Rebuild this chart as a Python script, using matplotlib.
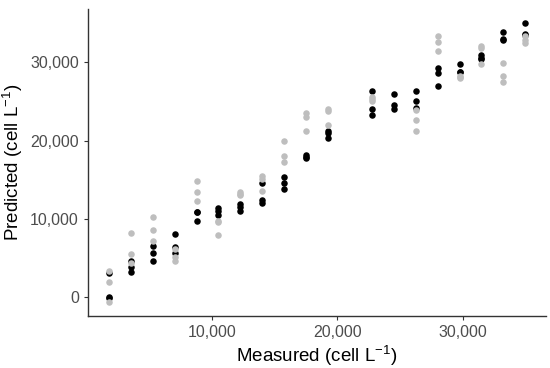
import matplotlib
matplotlib.use("Agg")
import matplotlib.pyplot as plt
from matplotlib.ticker import FuncFormatter

plt.rcParams['font.family'] = ['Liberation Sans', 'DejaVu Sans']

# measured concentrations (cell/L), one entry per sample group
measured = [1750, 3500, 5250, 7000, 8750, 10500, 12250, 14000, 15750, 17500,
            19250, 22750, 24500, 26250, 28000, 29750, 31500, 33250, 35000]

# predicted values, black series
pred_black = [
    [3100, 100, -100],
    [4660, 3930, 3210],
    [6610, 5640, 4620],
    [8060, 6480, 5640],
    [10870, 9760, 10900],
    [11420, 11030, 10520],
    [11890, 11500, 11070],
    [14640, 12440, 12090],
    [15370, 14600, 13840],
    [18140, 17760, 17950],
    [21240, 20380, 21000],
    [26340, 24000, 23240],
    [26000, 24520, 24080],
    [26300, 25100, 24170],
    [29310, 28670, 26980],
    [29820, 28760, 28700],
    [30930, 30380, 30500],
    [33780, 32880, 33000],
    [34970, 33610, 33500],
]

# predicted values, grey series
pred_grey = [
    [3400, 2000, -600],
    [8200, 5520, 4340],
    [10270, 8650, 7245],
    [6220, 5130, 4660],
    [14900, 13460, 12350],
    [9720, 7930, 9600],
    [13460, 13040, 13200],
    [15500, 15150, 13620],
    [19960, 18010, 17280],
    [23530, 22980, 21240],
    [24000, 23800, 22000],
    [25540, 25100, 25300],
    [],
    [23920, 22640, 21240],
    [33350, 32630, 31480],
    [28290, 28040, 28150],
    [32080, 31790, 29740],
    [29870, 28250, 27530],
    [33270, 32420, 32800],
]

bx = [m for m, ys in zip(measured, pred_black) for _ in ys]
by = [y for ys in pred_black for y in ys]
gx = [m for m, ys in zip(measured, pred_grey) for _ in ys]
gy = [y for ys in pred_grey for y in ys]

fig = plt.figure(figsize=(5.5, 3.68), dpi=100)
ax = fig.add_axes([0.16, 0.141, 0.833, 0.834])

ax.scatter(bx, by, s=22, color='black', linewidths=0, zorder=2)
ax.scatter(gx, gy, s=22, color='#BEBEBE', linewidths=0, zorder=3)

# ggplot-like 5% expansion
xmin, xmax = min(measured), max(measured)
xr = xmax - xmin
ax.set_xlim(xmin - 0.05 * xr, xmax + 0.05 * xr)
ally = by + gy
ymin, ymax = min(ally), max(ally)
yr = ymax - ymin
ax.set_ylim(ymin - 0.05 * yr, ymax + 0.05 * yr)

ax.set_xticks([10000, 20000, 30000])
ax.set_yticks([0, 10000, 20000, 30000])
fmt = FuncFormatter(lambda v, p: f'{int(v):,}')
ax.xaxis.set_major_formatter(fmt)
ax.yaxis.set_major_formatter(fmt)

for s in ['top', 'right']:
    ax.spines[s].set_visible(False)
for s in ['left', 'bottom']:
    ax.spines[s].set_color('#333333')
    ax.spines[s].set_linewidth(1.0)
ax.tick_params(colors='#333333', labelcolor='#4D4D4D', labelsize=11.5,
               length=3, width=0.8)

ax.set_xlabel('Measured (cell L$^{\\mathregular{-1}}$)', fontsize=13.5, labelpad=2)
ax.set_ylabel('Predicted (cell L$^{\\mathregular{-1}}$)', fontsize=13.5, labelpad=4)

fig.savefig('out.png', dpi=100)
